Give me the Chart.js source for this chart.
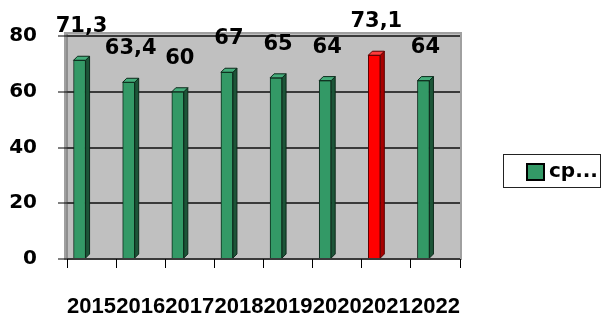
<!DOCTYPE html>
<html>
<head>
<meta charset="utf-8">
<script src="https://cdn.jsdelivr.net/npm/chart.js@4/dist/chart.umd.min.js"></script>
<style>
  html, body { margin: 0; padding: 0; background: #ffffff; }
  #wrap { width: 603px; height: 316px; }
</style>
</head>
<body>
<div id="wrap"><canvas id="myChart" width="603" height="316"></canvas></div>
<script>
// dados do gráfico
const anos = ["2015", "2016", "2017", "2018", "2019", "2020", "2021", "2022"];
const valores = [71.3, 63.4, 60, 67, 65, 64, 73.1, 64];
const anoDestaque = "2021";
const legenda = "ср...";
const yTicks = [0, 20, 40, 60, 80];

const verde = "#339966";
const vermelho = "#ff0000";

const coresBarras = anos.map((a) => (a === anoDestaque ? vermelho : verde));

// fundo cinza da área do gráfico (parede 3D)
const fundo = {
  id: "fundo",
  beforeDraw(chart) {
    const { ctx, chartArea: a } = chart;
    ctx.save();
    ctx.fillStyle = "#c0c0c0";
    ctx.fillRect(a.left - 2, a.top - 3, a.right - a.left + 3, a.bottom - a.top + 3);
    ctx.fillStyle = "#8e8e8e";
    ctx.fillRect(a.left - 2, a.top - 3, 3, a.bottom - a.top + 3);
    ctx.strokeStyle = "#a0a0a0";
    ctx.lineWidth = 2;
    ctx.strokeRect(a.left - 2, a.top - 3, a.right - a.left + 3, a.bottom - a.top + 3);
    ctx.restore();
  },
};

// barras com efeito 3D + rótulos
const desloc = -12;
const prof = 4;
const barras3d = {
  id: "barras3d",
  beforeDatasetsDraw(chart) {
    chart.ctx.save();
    chart.ctx.translate(desloc, 0);
  },
  afterDatasetsDraw(chart) {
    const ctx = chart.ctx;
    const meta = chart.getDatasetMeta(0);
    meta.data.forEach((bar, i) => {
      const { x, y, base, width } = bar.getProps(["x", "y", "base", "width"], true);
      const l = x - width / 2;
      const r = x + width / 2;
      const red = anos[i] === anoDestaque;
      ctx.lineWidth = 1;
      ctx.strokeStyle = red ? "#5a0000" : "#0c2a1b";
      // lado
      ctx.fillStyle = red ? "#a80000" : "#1c5538";
      ctx.beginPath();
      ctx.moveTo(r, y);
      ctx.lineTo(r + prof, y - prof);
      ctx.lineTo(r + prof, base - prof);
      ctx.lineTo(r, base);
      ctx.closePath();
      ctx.fill();
      ctx.stroke();
      // topo
      ctx.fillStyle = red ? "#ff3c3c" : "#45ad7b";
      ctx.beginPath();
      ctx.moveTo(l, y);
      ctx.lineTo(l + prof, y - prof);
      ctx.lineTo(r + prof, y - prof);
      ctx.lineTo(r, y);
      ctx.closePath();
      ctx.fill();
      ctx.stroke();
    });
    ctx.restore();

    ctx.save();
    ctx.fillStyle = "#000";
    ctx.font = "bold 21px 'DejaVu Sans'";
    ctx.textAlign = "center";
    ctx.textBaseline = "alphabetic";
    meta.data.forEach((bar, i) => {
      const txt = String(valores[i]).replace(".", ",");
      ctx.fillText(txt, bar.x + desloc + prof / 2, bar.y - 28);
    });
    ctx.restore();
  },
};

// legenda com caixa
const caixaLegenda = {
  id: "caixaLegenda",
  afterDraw(chart) {
    const ctx = chart.ctx;
    ctx.save();
    ctx.strokeStyle = "#222";
    ctx.lineWidth = 1;
    ctx.strokeRect(503.5, 154.5, 97, 33);
    ctx.fillStyle = verde;
    ctx.fillRect(527, 164, 17, 16);
    ctx.strokeStyle = "#000";
    ctx.lineWidth = 2;
    ctx.strokeRect(527, 164, 17, 16);
    ctx.beginPath();
    ctx.rect(504, 155, 96, 32);
    ctx.clip();
    ctx.fillStyle = "#000";
    ctx.font = "bold 20px 'DejaVu Sans'";
    ctx.textBaseline = "alphabetic";
    ctx.fillText(chart.data.datasets[0].label, 549, 177);
    ctx.restore();
  },
};

const ctx = document.getElementById("myChart").getContext("2d");

const myChart = new Chart(ctx, {
  type: "bar",
  data: {
    labels: anos,
    datasets: [
      {
        label: legenda,
        data: valores,
        backgroundColor: coresBarras,
        borderColor: anos.map((a) => (a === anoDestaque ? "#5a0000" : "#0c2a1b")),
        borderWidth: 1,
        barThickness: 12,
      },
    ],
  },
  options: {
    responsive: false,
    animation: false,
    layout: {
      padding: { top: 36, right: 143, left: 0, bottom: 0 },
    },
    scales: {
      y: {
        min: 0,
        max: 80,
        afterFit: (s) => { s.width = 67; },
        afterBuildTicks: (s) => { s.ticks = yTicks.map((v) => ({ value: v })); },
        border: { display: false },
        grid: {
          color: "#3a3a3a",
          lineWidth: 2,
          tickColor: "#000",
          tickWidth: 1,
          tickLength: 9,
        },
        ticks: {
          color: "#000",
          padding: 21,
          font: { family: "DejaVu Sans", size: 20, weight: "bold" },
        },
      },
      x: {
        afterFit: (s) => { s.height = 57; },
        border: { display: false },
        grid: {
          drawOnChartArea: false,
          tickColor: "#000",
          tickWidth: 1,
          tickLength: 9,
        },
        ticks: {
          color: "#000",
          autoSkip: false,
          maxRotation: 0,
          padding: 26,
          font: { family: "Liberation Sans", size: 22, weight: "bold" },
        },
      },
    },
    plugins: {
      legend: { display: false },
      tooltip: { enabled: false },
    },
  },
  plugins: [fundo, barras3d, caixaLegenda],
});
</script>
</body>
</html>
